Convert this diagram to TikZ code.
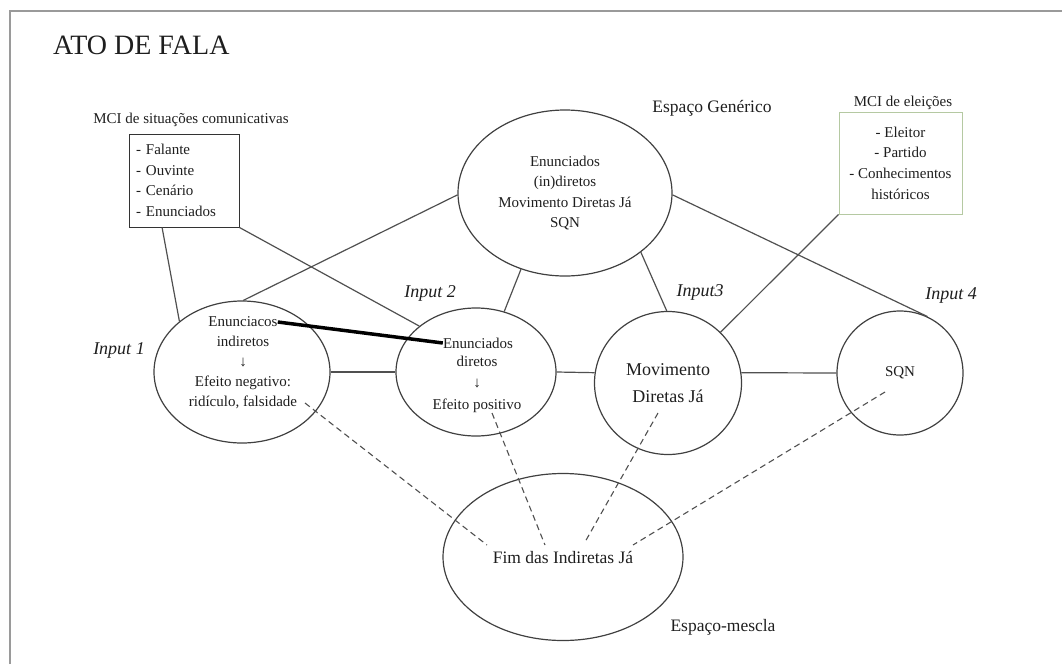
\documentclass[tikz,border=0pt]{standalone}
\usepackage{fontspec}
\setmainfont{Liberation Serif}
\usetikzlibrary{shapes.geometric}
\definecolor{ln}{HTML}{505050}
\definecolor{el}{HTML}{404040}
\definecolor{tx}{HTML}{1E1E1E}
\definecolor{frm}{HTML}{9A9A9A}
\definecolor{grn}{HTML}{B5C9A2}
\definecolor{bx}{HTML}{333333}
\begin{document}
\begin{tikzpicture}[x=1pt,y=-1pt,
  ell/.style={ellipse,draw=el,line width=1.2pt,inner sep=0pt},
  conn/.style={draw=ln,line width=1.2pt},
  dconn/.style={draw=ln,line width=1.1pt,dash pattern=on 6pt off 4pt},
  txt/.style={text=tx,inner sep=0pt,align=center},
  fs/.style={font=\fontsize{15}{20.5}\selectfont},
  fl/.style={font=\fontsize{18}{27}\selectfont},
  fm/.style={font=\fontsize{17.5}{21}\selectfont},
  lab/.style={text=tx,inner sep=0pt,font=\fontsize{18}{22}\selectfont\itshape},
]
\useasboundingbox (0,0) rectangle (1062,664);
\draw[frm,line width=2pt] (10,664) -- (10,11) -- (1062,11);

\node[txt,font=\fontsize{28}{32}\selectfont,anchor=west] (title) at (53,45) {ATO DE FALA};

% generic space
\node[ell,txt,fs,minimum width=214pt,minimum height=166pt] (gen) at (565,193)
  {Enunciados\\(in)diretos\\Movimento Diretas Já\\SQN};
\node[txt,fm] (genl) at (712,108) {Espaço Genérico};

% MCI boxes
\node[txt,fs] (box1t) at (191,120) {MCI de situações comunicativas};
\node[draw=bx,line width=1pt,text=tx,font=\fontsize{15}{20.7}\selectfont,text width=96pt,align=left,
  inner xsep=7pt,inner ysep=0pt,minimum height=93pt] (box1) at (184,180.5)
  {- Falante\\- Ouvinte\\- Cenário\\- Enunciados};

\node[txt,fs] (box2t) at (903,103) {MCI de eleições};
\node[draw=grn,line width=1pt,txt,font=\fontsize{15}{20.7}\selectfont,minimum width=123pt,minimum height=102pt]
  (box2) at (900.5,163) {- Eleitor\\- Partido\\- Conhecimentos\\históricos};

% inputs
\node[ell,minimum width=176pt,minimum height=142pt] (i1) at (242,372) {};
\node[txt,fs] (i1a) at (243,322) {Enunciacos};
\node[txt,font=\fontsize{15}{20}\selectfont] (i1b) at (243,372)
  {indiretos\\↓\\Efeito negativo:\\ridículo, falsidade};

\node[ell,minimum width=160pt,minimum height=128pt] (i2) at (476,372) {};
\node[txt,fs] (i2a) at (478,343) {Enunciados};
\node[txt,font=\fontsize{15}{21.5}\selectfont] (i2b) at (477,384)
  {diretos\\↓\\Efeito positivo};

\node[ell,txt,fl,minimum width=147pt,minimum height=143pt] (i3) at (668,383)
  {Movimento\\Diretas Já};
\node[ell,txt,fs,minimum width=126pt,minimum height=124pt] (i4) at (900,373) {SQN};

\node[lab] (l1) at (119,350) {Input 1};
\node[lab] (l2) at (430,293) {Input 2};
\node[lab] (l3) at (700,292) {Input3};
\node[lab] (l4) at (951,295) {Input 4};

% blend
\node[ell,minimum width=240pt,minimum height=167pt] (blend) at (563,557) {};
\node[txt,fm] (bt) at (563,557) {Fim das Indiretas Já};
\node[txt,fm] (blendl) at (723,627) {Espaço-mescla};

% connectors
\draw[conn] (gen.181) -- (i1.89);
\draw[conn] (gen.240) -- (i2.65);
\draw[conn] (gen.322) -- (i3.91);
\draw[conn] (gen.359) -- (i4.64);
\draw[conn] (box1.245) -- (i1.141);
\draw[conn] (box1.south east) -- (i2.141);
\draw[conn] (box2.south west) -- (i3.44);
\draw[conn] (i1.east) -- (i2.west);
\draw[conn] (i2.east) -- (i3.172);
\draw[conn] (i3.8) -- (i4.west);

\draw[black,line width=3.5pt] (i1a.east) -- (i2a.west);

\coordinate (d1a) at (305,403);
\coordinate (d1b) at (487,545);
\coordinate (d2a) at (492,413);
\coordinate (d2b) at (545,545);
\coordinate (d3a) at (658,413);
\coordinate (d3b) at (585,542);
\coordinate (d4a) at (885,392);
\coordinate (d4b) at (633,545);
\draw[dconn] (d1a) -- (d1b);
\draw[dconn] (d2a) -- (d2b);
\draw[dconn] (d3a) -- (d3b);
\draw[dconn] (d4a) -- (d4b);
\end{tikzpicture}
\end{document}
